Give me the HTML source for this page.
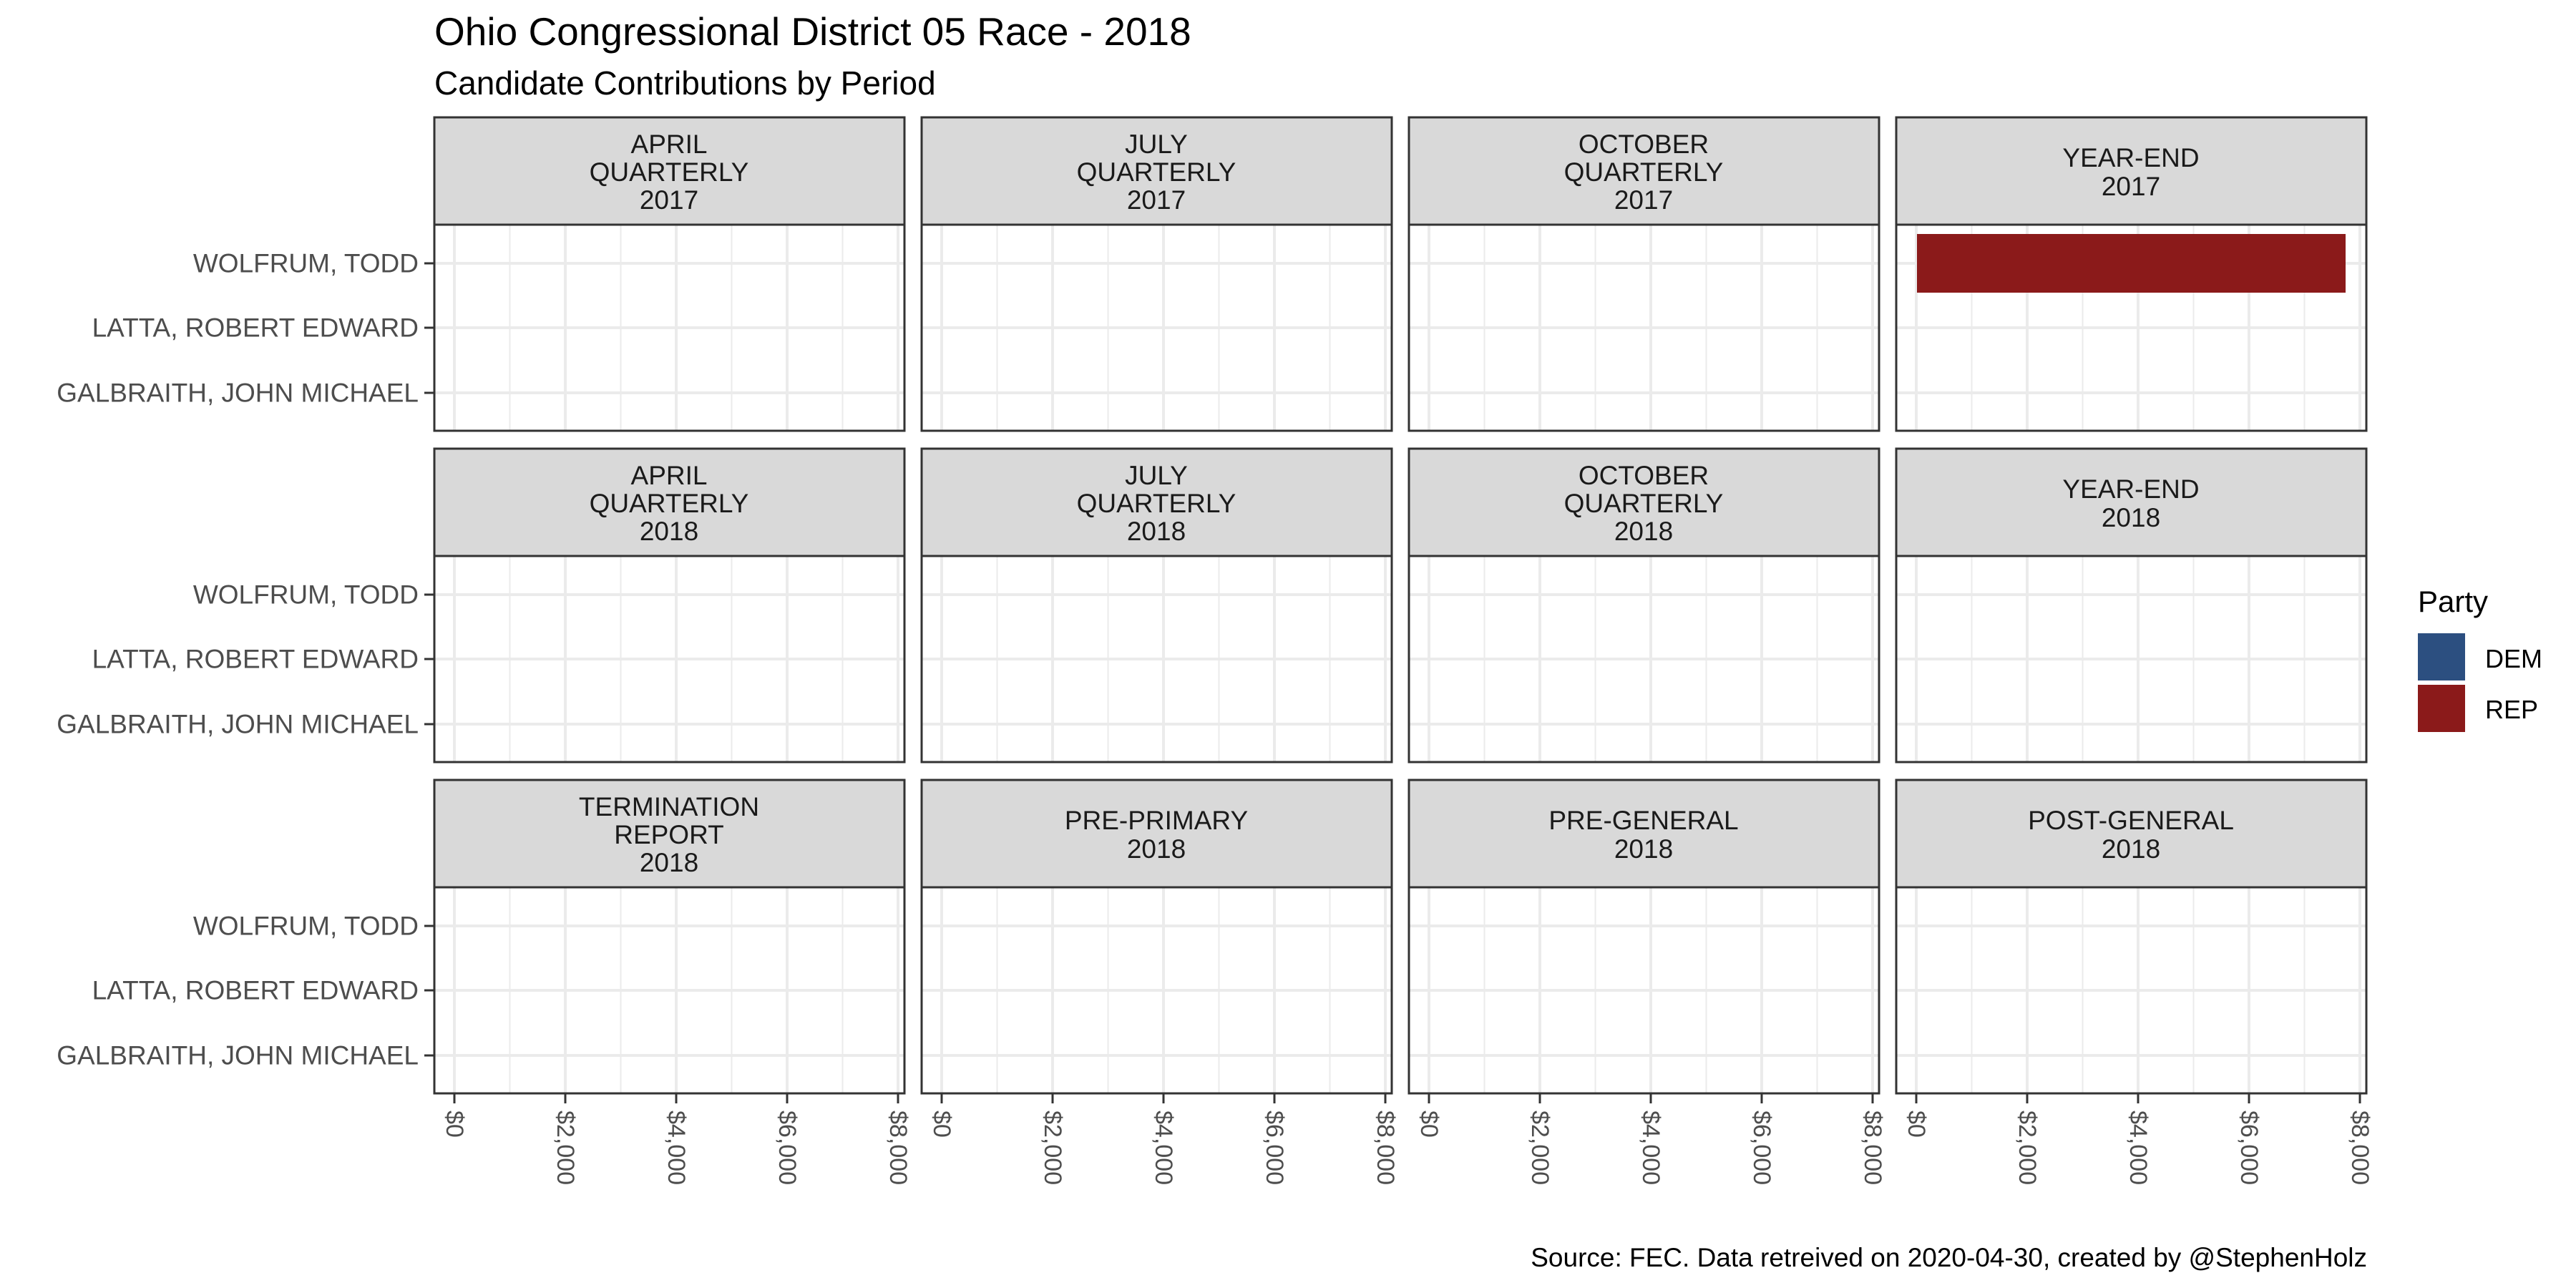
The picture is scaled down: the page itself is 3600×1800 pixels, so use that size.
<!DOCTYPE html>
<html><head><meta charset="utf-8"><style>
html,body{margin:0;padding:0;background:#fff;}
svg{display:block;font-family:"Liberation Sans",Arial,sans-serif;}
</style></head><body>
<svg width="3600" height="1800" viewBox="0 0 3600 1800" xmlns="http://www.w3.org/2000/svg">
<defs>
<g id="p">
  <rect x="0" y="150" width="657" height="288" fill="#fff"/>
  <g stroke="#ebebeb" stroke-width="2">
    <line x1="105.5" y1="150" x2="105.5" y2="438"/><line x1="260.5" y1="150" x2="260.5" y2="438"/>
    <line x1="415.5" y1="150" x2="415.5" y2="438"/><line x1="570.5" y1="150" x2="570.5" y2="438"/>
  </g>
  <g stroke="#ebebeb" stroke-width="4">
    <line x1="28" y1="150" x2="28" y2="438"/><line x1="183" y1="150" x2="183" y2="438"/>
    <line x1="338" y1="150" x2="338" y2="438"/><line x1="493" y1="150" x2="493" y2="438"/>
    <line x1="648" y1="150" x2="648" y2="438"/>
    <line x1="0" y1="204" x2="657" y2="204"/><line x1="0" y1="294" x2="657" y2="294"/>
    <line x1="0" y1="385" x2="657" y2="385"/>
  </g>
  <rect x="0" y="0" width="657" height="150" fill="#d9d9d9" stroke="#333" stroke-width="3"/>
  <rect x="0" y="150" width="657" height="288" fill="none" stroke="#333" stroke-width="3"/>
</g>
<g id="yt" stroke="#333" stroke-width="3">
  <line x1="593" y1="204" x2="607" y2="204"/><line x1="593" y1="294" x2="607" y2="294"/><line x1="593" y1="385" x2="607" y2="385"/>
</g>
<g id="xt" stroke="#333" stroke-width="3">
  <line x1="28" y1="1528" x2="28" y2="1542"/><line x1="183" y1="1528" x2="183" y2="1542"/>
  <line x1="338" y1="1528" x2="338" y2="1542"/><line x1="493" y1="1528" x2="493" y2="1542"/>
  <line x1="648" y1="1528" x2="648" y2="1542"/>
</g>
</defs>

<text x="607" y="63" font-size="55" fill="#000">Ohio Congressional District 05 Race - 2018</text>
<text x="607" y="132" font-size="46" fill="#000">Candidate Contributions by Period</text>

<use href="#p" x="607" y="164"/><use href="#p" x="1288" y="164"/><use href="#p" x="1969" y="164"/><use href="#p" x="2650" y="164"/>
<use href="#p" x="607" y="627"/><use href="#p" x="1288" y="627"/><use href="#p" x="1969" y="627"/><use href="#p" x="2650" y="627"/>
<use href="#p" x="607" y="1090"/><use href="#p" x="1288" y="1090"/><use href="#p" x="1969" y="1090"/><use href="#p" x="2650" y="1090"/>

<rect x="2679" y="327" width="599" height="82" fill="#8b1a1a"/>

<g font-size="37" fill="#1a1a1a" text-anchor="middle">
  <text x="935" y="214">APRIL</text><text x="935" y="253">QUARTERLY</text><text x="935" y="292">2017</text>
  <text x="1616" y="214">JULY</text><text x="1616" y="253">QUARTERLY</text><text x="1616" y="292">2017</text>
  <text x="2297" y="214">OCTOBER</text><text x="2297" y="253">QUARTERLY</text><text x="2297" y="292">2017</text>
  <text x="2978" y="233">YEAR-END</text><text x="2978" y="273">2017</text>

  <text x="935" y="677">APRIL</text><text x="935" y="716">QUARTERLY</text><text x="935" y="755">2018</text>
  <text x="1616" y="677">JULY</text><text x="1616" y="716">QUARTERLY</text><text x="1616" y="755">2018</text>
  <text x="2297" y="677">OCTOBER</text><text x="2297" y="716">QUARTERLY</text><text x="2297" y="755">2018</text>
  <text x="2978" y="696">YEAR-END</text><text x="2978" y="736">2018</text>

  <text x="935" y="1140">TERMINATION</text><text x="935" y="1179">REPORT</text><text x="935" y="1218">2018</text>
  <text x="1616" y="1159">PRE-PRIMARY</text><text x="1616" y="1199">2018</text>
  <text x="2297" y="1159">PRE-GENERAL</text><text x="2297" y="1199">2018</text>
  <text x="2978" y="1159">POST-GENERAL</text><text x="2978" y="1199">2018</text>
</g>

<use href="#yt" x="0" y="164"/><use href="#yt" x="0" y="627"/><use href="#yt" x="0" y="1090"/>
<g font-size="37" fill="#4d4d4d" text-anchor="end" dominant-baseline="central">
  <text x="585" y="368">WOLFRUM, TODD</text><text x="585" y="458">LATTA, ROBERT EDWARD</text><text x="585" y="549">GALBRAITH, JOHN MICHAEL</text>
  <text x="585" y="831">WOLFRUM, TODD</text><text x="585" y="921">LATTA, ROBERT EDWARD</text><text x="585" y="1012">GALBRAITH, JOHN MICHAEL</text>
  <text x="585" y="1294">WOLFRUM, TODD</text><text x="585" y="1384">LATTA, ROBERT EDWARD</text><text x="585" y="1475">GALBRAITH, JOHN MICHAEL</text>
</g>

<use href="#xt" x="607" y="0"/><use href="#xt" x="1288" y="0"/><use href="#xt" x="1969" y="0"/><use href="#xt" x="2650" y="0"/>
<g font-size="34" fill="#4d4d4d" dominant-baseline="central">
  <text transform="translate(635,1552) rotate(90)">$0</text>
  <text transform="translate(790,1552) rotate(90)">$2,000</text>
  <text transform="translate(945,1552) rotate(90)">$4,000</text>
  <text transform="translate(1100,1552) rotate(90)">$6,000</text>
  <text transform="translate(1255,1552) rotate(90)">$8,000</text>
  <text transform="translate(1316,1552) rotate(90)">$0</text>
  <text transform="translate(1471,1552) rotate(90)">$2,000</text>
  <text transform="translate(1626,1552) rotate(90)">$4,000</text>
  <text transform="translate(1781,1552) rotate(90)">$6,000</text>
  <text transform="translate(1936,1552) rotate(90)">$8,000</text>
  <text transform="translate(1997,1552) rotate(90)">$0</text>
  <text transform="translate(2152,1552) rotate(90)">$2,000</text>
  <text transform="translate(2307,1552) rotate(90)">$4,000</text>
  <text transform="translate(2462,1552) rotate(90)">$6,000</text>
  <text transform="translate(2617,1552) rotate(90)">$8,000</text>
  <text transform="translate(2678,1552) rotate(90)">$0</text>
  <text transform="translate(2833,1552) rotate(90)">$2,000</text>
  <text transform="translate(2988,1552) rotate(90)">$4,000</text>
  <text transform="translate(3143,1552) rotate(90)">$6,000</text>
  <text transform="translate(3298,1552) rotate(90)">$8,000</text>
</g>

<text x="3379" y="855" font-size="42" fill="#000">Party</text>
<rect x="3379" y="885" width="66" height="66" fill="#2c4f80"/>
<rect x="3379" y="957" width="66" height="66" fill="#8b1a1a"/>
<text x="3473" y="933" font-size="36" fill="#000">DEM</text>
<text x="3473" y="1004" font-size="36" fill="#000">REP</text>

<text x="3308" y="1770" font-size="37" fill="#000" text-anchor="end">Source: FEC. Data retreived on 2020-04-30, created by @StephenHolz</text>
</svg>
</body></html>
